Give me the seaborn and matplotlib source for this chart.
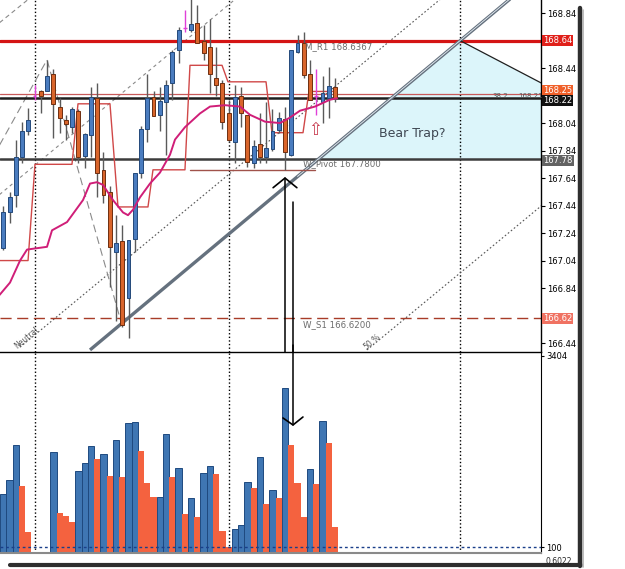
import numpy as np
import pandas as pd
import matplotlib
matplotlib.use("Agg")
import matplotlib.pyplot as plt
import matplotlib.transforms as mtransforms
from matplotlib.lines import Line2D
from matplotlib.patches import Polygon
import seaborn as sns

# ---------------- data ----------------
opens = [167.13, 167.39, 167.52, 167.79, 167.98, 168.23, 168.27, 168.27, 168.40, 168.16,
         168.06, 168.01, 168.13, 167.80, 167.95, 168.22, 167.70, 167.54, 167.10, 167.18,
         166.77, 167.20, 167.68, 168.00, 168.23, 168.10, 168.19, 168.33, 168.57, 168.73,
         168.72, 168.77, 168.64, 168.59, 168.37, 168.33, 168.11, 167.90, 168.24, 168.10,
         167.75, 167.89, 167.79, 167.85, 167.99, 168.07, 167.81, 168.56, 168.62, 168.40,
         168.24, 168.19, 168.22, 168.30]
closes = [167.39, 167.50, 167.79, 167.98, 168.06, 168.24, 168.24, 168.38, 168.18, 168.08,
          168.03, 168.14, 167.79, 167.96, 168.23, 167.68, 167.52, 167.14, 167.17, 166.57,
          167.19, 167.68, 168.00, 168.22, 168.09, 168.20, 168.32, 168.56, 168.72, 168.73,
          168.76, 168.62, 168.55, 168.40, 168.32, 168.05, 167.92, 168.23, 168.11, 167.76,
          167.87, 167.79, 167.86, 167.98, 168.08, 167.83, 168.57, 168.62, 168.39, 168.21,
          168.24, 168.26, 168.31, 168.22]
highs = [167.44, 167.54, 167.92, 168.05, 168.15, 168.32, 168.28, 168.50, 168.43, 168.22,
         168.10, 168.16, 168.14, 167.97, 168.30, 168.33, 167.83, 167.58, 167.37, 167.30,
         167.19, 167.68, 168.02, 168.40, 168.27, 168.30, 168.35, 168.57, 168.74, 168.86,
         168.97, 168.90, 168.75, 168.80, 168.59, 168.35, 168.21, 168.32, 168.30, 168.10,
         167.92, 168.11, 168.19, 168.14, 168.12, 168.16, 168.57, 168.68, 168.70, 168.50,
         168.43, 168.38, 168.45, 168.37]
lows = [167.12, 167.31, 167.43, 167.75, 167.95, 168.21, 168.11, 168.27, 167.93, 167.97,
        167.92, 167.97, 167.75, 167.71, 167.79, 167.50, 167.46, 166.85, 166.60, 166.56,
        166.48, 167.10, 167.64, 167.90, 168.09, 167.98, 167.81, 168.21, 168.48, 168.70,
        168.70, 168.62, 168.50, 168.26, 168.24, 168.00, 167.90, 167.75, 168.01, 167.72,
        167.71, 167.75, 167.75, 167.84, 167.97, 167.70, 167.80, 168.55, 168.37, 168.21,
        168.10, 168.04, 168.08, 168.19]
volumes = [1020, 1261, 1866, 1158, 363, 10, 20, 25, 1745, 691,
           639, 536, 1417, 1555, 1849, 1624, 1711, 1331, 1953, 1313,
           2246, 2264, 1763, 1210, 960, 975, 2056, 1313, 1469, 674,
           950, 622, 1382, 1503, 1365, 380, 104, 415, 484, 1227,
           1123, 1659, 847, 1089, 950, 2851, 1866, 1210, 622, 1452,
           1192, 2281, 1901, 449]

ma_idx = [-0.6, 1.07, 2.67, 3.79, 6.98, 7.78, 10.18, 12.73, 13.85, 14.97,
          15.93, 17.52, 19.12, 19.92, 20.72, 21.84, 23.43, 25.03, 26.63, 27.43,
          29.02, 31.42, 33.02, 35.42, 37.81, 39.41, 41.81, 44.20, 45.80, 47.40,
          49.79, 52.19, 53.31]
ma_val = [166.79, 166.88, 167.04, 167.12, 167.14, 167.26, 167.32, 167.48, 167.60, 167.61,
          167.59, 167.48, 167.39, 167.37, 167.41, 167.50, 167.60, 167.68, 167.81, 167.92,
          168.01, 168.11, 168.16, 168.17, 168.16, 168.10, 168.05, 168.04, 168.08, 168.13,
          168.16, 168.21, 168.22]

step_idx = [-0.6, 3.95, 5.06, 10.97, 11.93, 17.04, 18.32, 23.11, 23.91, 29.02,
            29.82, 34.94, 35.89, 41.97, 42.92, 47.88, 48.83, 53.0]
step_val = [167.04, 167.04, 167.74, 167.74, 168.18, 168.18, 167.43, 167.43, 167.70, 167.70,
            168.46, 168.46, 168.34, 168.34, 167.97, 167.97, 168.27, 168.27]

low_seg_idx = [29.82, 49.8]
low_seg_val = [167.70, 167.70]

# key horizontal levels
level_r1 = 168.64
level_fib = 168.25
level_last = 168.22
level_pivot = 167.78
level_s1 = 166.62

price_ticks = [168.84, 168.44, 168.04, 167.84, 167.64,
               167.44, 167.24, 167.04, 166.84, 166.44]
vol_ticks = [100, 3404]
separators = [5.06, 36.05, 72.96]

# trend / channel drawings (index, price anchors)
trend_idx = [13.85, 83.0]
trend_val = [166.39, 169.02]
chan_a = ([-0.6, 4.0], [168.77, 168.94])
chan_b = ([-0.6, 37.3], [167.52, 168.95])
chan_c = ([2.67, 69.8], [166.41, 168.94])
chan_d = ([58.1, 86.0], [166.39, 167.44])
zig_idx = [-0.6, 6.98, 18.96]
zig_val = [167.88, 168.50, 166.57]
tri_idx = [50.4, 72.96, 86.0, 86.0]
tri_val = [167.78, 168.64, 168.33, 167.78]

# ---------------- style ----------------
sns.set_style("white")
plt.rcParams['font.family'] = ['DejaVu Sans']

BLUE = '#4a7cbf'
BLUE_E = '#24497a'
ORANGE = '#d9652b'
ORANGE_E = '#6e2e10'
VBLUE = '#3f76b3'
VORANGE = '#f4623f'
MAGENTA = '#d01e78'

W, H = 625, 569
fig = plt.figure(figsize=(6.25, 5.69), dpi=100)
fig.patch.set_facecolor('white')
ax_p = fig.add_axes([0, 1 - 352 / H, 541 / W, 352 / H])
ax_v = fig.add_axes([0, 1 - 553 / H, 541 / W, 201 / H])

n = len(opens)
x = np.arange(n)
XMIN, XMAX = -0.53, 85.9

# ---------------- price panel ----------------
ax_p.set_xlim(XMIN, XMAX)
ax_p.set_ylim(166.375, 168.935)

ax_p.add_patch(Polygon(list(zip(tri_idx, tri_val)), closed=True,
                       facecolor='#dcf5fa', edgecolor='none', zorder=0.5))

for xs in separators:
    ax_p.axvline(xs, color='black', lw=1, ls=(0, (1, 1.6)), zorder=1)

ax_p.axhline(level_r1, color='#d41414', lw=2.3, zorder=2)
ax_p.axhline(level_fib, color='#c85a5a', lw=0.9, zorder=2)
ax_p.axhline(level_last, color='#1e1e1e', lw=1.8, zorder=2)
ax_p.axhline(level_pivot, color='#3c3c3c', lw=1.8, zorder=2)
ax_p.axhline(level_s1, color='#a83c28', lw=1.0, ls=(0, (8, 4)), zorder=2)

ax_p.plot(*chan_a, color='#8a8a8a', lw=0.8, ls=(0, (4, 3)), zorder=1.5)
ax_p.plot(*chan_b, color='#8a8a8a', lw=0.8, ls=(0, (3, 3)), zorder=1.5)
ax_p.plot(*chan_c, color='#555555', lw=0.8, ls=(0, (1.5, 2)), zorder=1.5)
ax_p.plot(*chan_d, color='#555555', lw=0.8, ls=(0, (1.5, 2)), zorder=1.5)
ax_p.plot(zig_idx, zig_val, color='#8a8a8a', lw=0.8, ls=(0, (7, 4)), zorder=1.5)

ax_p.plot(trend_idx, trend_val, color='#65717e', lw=2.4, zorder=2.6, solid_capstyle='butt')
ax_p.plot([47.0, 83.0], [166.39 + (47.0 - 13.85) * 0.03806, 166.39 + (83.0 - 13.85) * 0.03806],
          color='#e8f0f6', lw=0.6, zorder=2.7)
ax_p.plot([tri_idx[1], tri_idx[2]], [tri_val[1], tri_val[2]], color='#202020', lw=0.9, zorder=2.6)

ax_p.plot(step_idx, step_val, color='#d04848', lw=1.0, zorder=2.8)
ax_p.plot(low_seg_idx, low_seg_val, color='#a0524a', lw=1.0, zorder=2.8)

for i in range(n):
    o, c, h, l = opens[i], closes[i], highs[i], lows[i]
    if abs(c - o) < 0.015:
        ax_p.vlines(i, l, h, color='#e040d8', lw=1.0, zorder=3)
        ax_p.hlines(c, i - 0.3, i + 0.3, color='#e040d8', lw=1.0, zorder=3)
        continue
    ax_p.vlines(i, l, h, color='#5a5a5a', lw=1.0, zorder=3)
    up = c > o
    ax_p.bar(i, abs(c - o), bottom=min(o, c), width=0.62,
             color=BLUE if up else ORANGE, edgecolor=BLUE_E if up else ORANGE_E,
             linewidth=0.7, zorder=4)

sns.lineplot(x=ma_idx, y=ma_val, ax=ax_p, color=MAGENTA, lw=1.4, zorder=5,
             estimator=None, sort=False)

# arrows
ax_p.plot([45.0, 45.0], [166.30, 167.64], color='black', lw=1.1, zorder=6)
ax_p.plot([43.1, 45.0, 46.9], [167.57, 167.64, 167.57], color='black', lw=1.2, zorder=6)
ax_p.plot([46.28, 46.28], [166.30, 167.466], color='black', lw=1.1, zorder=6)
ax_p.text(49.8, 167.99, '\u21e7', color='#c83c50', fontsize=12, ha='center', va='center', zorder=6)

# annotations
ax_p.text(48.2, 168.595, 'M_R1 168.6367', fontsize=6.2, color='#6c6c6c', va='center', zorder=6)
ax_p.text(47.8, 167.742, 'W_Pivot 167.7800', fontsize=6.2, color='#6c6c6c', va='center', zorder=6)
ax_p.text(47.9, 166.571, 'W_S1 166.6200', fontsize=6.2, color='#6c6c6c', va='center', zorder=6)
ax_p.text(65.4, 167.965, 'Bear Trap?', fontsize=9, color='#3e4752', ha='center', va='center', zorder=6)
ax_p.text(79.4, 168.236, '38.2', fontsize=5, color='#555555', ha='center', va='center', zorder=6)
ax_p.text(84.2, 168.236, '168.21', fontsize=5, color='#555555', ha='center', va='center', zorder=6)
ax_p.text(58.9, 166.45, '50.%', fontsize=5.5, color='#555555', rotation=40,
          ha='center', va='center', zorder=6)
ax_p.text(3.8, 166.48, 'Neutral', fontsize=5.5, color='#555555', rotation=40,
          ha='center', va='center', zorder=6)

for s in ['top', 'left']:
    ax_p.spines[s].set_visible(False)
ax_p.spines['right'].set_color('black')
ax_p.spines['right'].set_linewidth(1.0)
ax_p.spines['bottom'].set_visible(False)
ax_p.set_xticks([])
ax_p.set_yticks(price_ticks)
ax_p.set_yticklabels([f'{t:.2f}' for t in price_ticks])
ax_p.yaxis.tick_right()
ax_p.tick_params(axis='y', which='both', left=False, right=True, labelleft=False,
                 labelright=True, direction='out', length=3, width=0.8,
                 labelsize=6.0, pad=1.5, colors='black')
ax_p.set_xlabel('')
ax_p.set_ylabel('')

# level label boxes (slightly separated so they stay readable)
tr = mtransforms.blended_transform_factory(ax_p.transAxes, ax_p.transData)
boxes = [(level_r1, '168.64', '#e0201a', 5),
         (level_fib + 0.03, '168.25', '#f0602a', 5),
         (level_last - 0.015, '168.22', '#111111', 6),
         (level_pivot - 0.014, '167.78', '#626262', 5),
         (level_s1, '166.62', '#f07262', 5)]
for val, lbl, col, z in boxes:
    ax_p.text(1.004, val, lbl, transform=tr, fontsize=6.0, color='white', ha='left',
              va='center', clip_on=False, zorder=z,
              bbox=dict(boxstyle='square,pad=0.12', facecolor=col, edgecolor='none'))

# ---------------- volume panel ----------------
vol_dir = ['up' if i == 0 or volumes[i] > volumes[i - 1] else 'down' for i in range(n)]
df_v = pd.DataFrame({'idx': x, 'vol': volumes, 'dir': vol_dir})
sns.barplot(data=df_v, x='idx', y='vol', hue='dir', palette={'up': VBLUE, 'down': VORANGE},
            native_scale=True, width=1.0, dodge=False, errorbar=None, legend=False,
            saturation=1, linewidth=0, ax=ax_v, zorder=2)
for p in ax_v.patches:
    fc = p.get_facecolor()
    if abs(fc[0] - matplotlib.colors.to_rgba(VBLUE)[0]) < 0.02:
        p.set_edgecolor('#1f4a80')
        p.set_linewidth(0.7)

ax_v.set_xlim(XMIN, XMAX)
ax_v.set_ylim(0, 3473)
for xs in separators:
    ax_v.axvline(xs, color='black', lw=1, ls=(0, (1, 1.6)), zorder=1)
ax_v.axhline(100, color='#1a3f8a', lw=1.0, ls=(0, (2, 2)), zorder=3)

ax_v.plot([46.28, 46.28], [3600, 2212], color='black', lw=1.1, zorder=6, clip_on=False)
ax_v.plot([44.68, 46.28, 47.87], [2333, 2212, 2350], color='black', lw=1.2, zorder=6)

ax_v.spines['left'].set_visible(False)
ax_v.spines['top'].set_visible(True)
ax_v.spines['top'].set_color('black')
ax_v.spines['top'].set_linewidth(1.0)
ax_v.spines['right'].set_color('black')
ax_v.spines['bottom'].set_color('#8a8a8a')
ax_v.spines['bottom'].set_linewidth(1.5)
ax_v.set_xticks([])
ax_v.set_yticks(vol_ticks)
ax_v.set_yticklabels(['100', '3404'])
ax_v.yaxis.tick_right()
ax_v.tick_params(axis='y', which='both', left=False, right=True, labelleft=False,
                 labelright=True, direction='out', length=2, width=0.8,
                 labelsize=6, pad=1.5, colors='black')
ax_v.set_xlabel('')
ax_v.set_ylabel('')

fig.text(545 / W, 1 - 561 / H, '0.6022', fontsize=5.5, va='center', ha='left')

# screenshot frame shadow
fig.add_artist(Line2D([580 / W, 580 / W], [1 - 8 / H, 1 - 566 / H], color='#2e2e2e', lw=3.2))
fig.add_artist(Line2D([10 / W, 581 / W], [1 - 565 / H, 1 - 565 / H], color='#2e2e2e', lw=3.0))
fig.add_artist(Line2D([583 / W, 583 / W], [1 - 10 / H, 1 - 567 / H], color='#b0b0b0', lw=1.2))

fig.savefig('out.png', dpi=100, facecolor='white')
